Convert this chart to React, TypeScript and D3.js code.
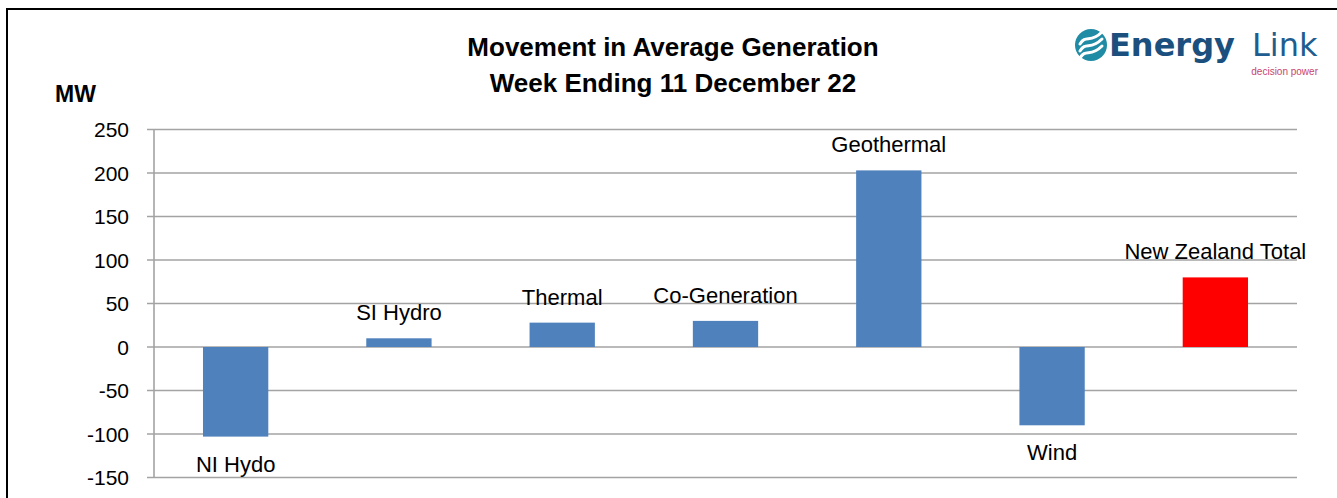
import * as d3 from "d3";

const categories = [
  "NI Hydo",
  "SI Hydro",
  "Thermal",
  "Co-Generation",
  "Geothermal",
  "Wind",
  "New Zealand Total",
];
const movement = [-103, 10, 28, 30, 203, -90, 80];
const yTicks = [-150, -100, -50, 0, 50, 100, 150, 200, 250];
const totalName = "New Zealand Total";

const W = 1337;
const H = 498;
const plot = { left: 154, right: 1297, top: 129.5, bottom: 477.5 };

const BLUE = "#4f81bd";
const RED = "#ff0000";
const GRID = "#a3a3a3";
const FONT = "'Liberation Sans', Arial, sans-serif";

function Logo() {
  // circle badge + wordmark, top right
  const cx = 1091;
  const cy = 45;
  const r = 16;
  const wave = (dy: number) =>
    `M${cx - 11},${cy + 6 + dy} C${cx - 5},${cy - 4 + dy} ${cx - 1},${cy + 6 + dy} ${cx + 11},${cy - 6 + dy}`;
  return (
    <g>
      <circle cx={cx} cy={cy} r={r} fill="#1f8ba4" />
      {[-7, 0, 7].map((d) => (
        <path key={d} d={wave(d)} fill="none" stroke="#fff" strokeWidth={3} strokeLinecap="round" />
      ))}
      <text x={1109} y={56} fontFamily="'DejaVu Sans', sans-serif" fontWeight="bold" fontSize={32} fill="#1b4f7e">
        Energy
      </text>
      <text x={1252} y={56} fontFamily="'DejaVu Sans', sans-serif" fontSize={32} fill="#1f5d90">
        Link
      </text>
      <text x={1318} y={75} textAnchor="end" fontFamily={FONT} fontSize={10} fill="#c8446e">
        decision power
      </text>
    </g>
  );
}

export default function App() {
  const x = d3
    .scaleBand<string>()
    .domain(categories)
    .range([plot.left, plot.right])
    .paddingInner(0.6)
    .paddingOuter(0.3);
  const y = d3.scaleLinear().domain([-150, 250]).range([plot.bottom, plot.top]);
  const zero = y(0);

  return (
    <svg
      width={W}
      height={H}
      style={{ position: "absolute", left: 0, top: 0, background: "#fff" }}
      fontFamily={FONT}
    >
      <rect x={0} y={0} width={W} height={H} fill="#fff" />
      <rect x={7} y={9} width={W + 20} height={H + 20} fill="none" stroke="#000" strokeWidth={2} />

      <text x={673} y={56} textAnchor="middle" fontWeight="bold" fontSize={26} fill="#000">
        Movement in Average Generation
      </text>
      <text x={673} y={92} textAnchor="middle" fontWeight="bold" fontSize={26} fill="#000">
        Week Ending 11 December 22
      </text>
      <text x={55} y={102} fontWeight="bold" fontSize={23} fill="#000">
        MW
      </text>

      <Logo />

      {yTicks.map((t) => (
        <g key={t}>
          <line x1={147} x2={plot.right} y1={y(t)} y2={y(t)} stroke={GRID} strokeWidth={1.6} />
          <text x={129} y={y(t)} dy="0.36em" textAnchor="end" fontSize={21} fill="#000">
            {t}
          </text>
        </g>
      ))}
      <line x1={plot.left} x2={plot.left} y1={plot.top} y2={plot.bottom} stroke={GRID} strokeWidth={1.6} />

      {categories.map((c, i) => {
        const v = movement[i];
        const x0 = x(c) ?? 0;
        const top = v >= 0 ? y(v) : zero;
        const h = Math.abs(y(v) - zero);
        return (
          <rect key={c} x={x0} y={top} width={x.bandwidth()} height={h} fill={c === totalName ? RED : BLUE} />
        );
      })}

      {categories.map((c, i) => {
        const v = movement[i];
        const cx = (x(c) ?? 0) + x.bandwidth() / 2;
        const ly = v >= 0 ? y(v) - 18 : y(v) + 35;
        return (
          <text key={c} x={cx} y={ly} textAnchor="middle" fontSize={22} fill="#000">
            {c}
          </text>
        );
      })}
    </svg>
  );
}
